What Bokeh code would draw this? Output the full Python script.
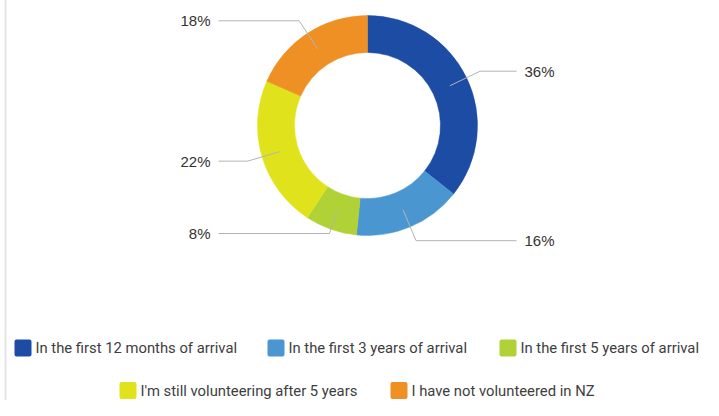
import math
from bokeh.plotting import figure
from bokeh.models import Range1d, ColumnDataSource
from bokeh.core.properties import value
from bokeh.embed import file_html
from bokeh.resources import INLINE

# ---- data ----
categories = [
    "In the first 12 months of arrival",
    "In the first 3 years of arrival",
    "In the first 5 years of arrival",
    "I'm still volunteering after 5 years",
    "I have not volunteered in NZ",
]
values = [35.7, 15.9, 7.6, 22.4, 18.4]
colors = ["#1c4ca4", "#4a96d1", "#b1d236", "#e0e31b", "#ef9025"]

# ---- layout constants (page pixels) ----
W, H = 719, 408
CX, CY = 375, 133           # donut centre on the page
R_IN, R_OUT = 73, 110
R_MID = (R_IN + R_OUT) / 2
R_ELBOW = 125
LINE_END = 149
LABEL_X = 157
legend_left = [22, 275, 507, 127, 398]
legend_row_y = [355.5, 355.5, 355.5, 398, 398]
SQ = 13

x0, x1 = -CX, W - CX
y0, y1 = CY - H, CY
p = figure(width=W, height=H, x_range=Range1d(x0, x1), y_range=Range1d(y0, y1),
           output_backend="svg", toolbar_location=None,
           min_border=0, min_border_left=0, min_border_right=0,
           min_border_top=0, min_border_bottom=0)
p.axis.visible = False
p.grid.visible = False
p.outline_line_color = None
p.background_fill_color = "white"
p.styles = {"margin-left": "-8px", "margin-top": "-8px"}

# frame lines
p.segment(x0=[x0, 13 - CX], y0=[CY - 4, CY - 4], x1=[x1, 13 - CX], y1=[CY - 4, y0],
          line_color="#e4e4e4", line_width=2)

total = sum(values)
cum = [0.0]
for v in values:
    cum.append(cum[-1] + v / total)
starts = [math.pi / 2 - 2 * math.pi * c for c in cum[:-1]]
ends = [math.pi / 2 - 2 * math.pi * c for c in cum[1:]]

src = ColumnDataSource(dict(start=starts, end=ends, color=colors))
p.annular_wedge(x=0, y=0, inner_radius=R_IN, outer_radius=R_OUT, start_angle="start",
                end_angle="end", direction="clock", fill_color="color", line_color="color",
                line_width=0.5, source=src)

# leader lines and labels
xs, ys, lx, ly, lt, la = [], [], [], [], [], []
for i, v in enumerate(values):
    th = 2 * math.pi * (cum[i] + cum[i + 1]) / 2
    ux, uy = math.sin(th), math.cos(th)
    sx, sy = R_MID * ux, R_MID * uy
    ex, ey = R_ELBOW * ux, R_ELBOW * uy
    if ux < 0 and abs(ey) > R_OUT - 2:
        r = (R_OUT - 2) / abs(uy)
        ex, ey = r * ux, math.copysign(R_OUT - 2, uy)
    side = 1 if ux >= 0 else -1
    xs.append([sx, ex, side * LINE_END])
    ys.append([sy, ey, ey])
    lx.append(side * LABEL_X)
    ly.append(ey)
    lt.append(f"{round(v / total * 100)}%")
    la.append("left" if side > 0 else "right")

p.multi_line(xs=xs, ys=ys, line_color="#b4b4b4", line_width=1)
p.text(x=lx, y=ly, text=lt, text_align=la, text_baseline="middle",
       text_font=value("Liberation Sans"), text_font_size="15px", text_color="#333333")

# legend
qx = [l + SQ / 2 + 2 - CX for l in legend_left]
qy = [CY - y for y in legend_row_y]
p.rect(x=qx, y=qy, width=SQ, height=SQ, fill_color=colors, line_color=colors,
       line_width=4, line_join="round")
p.text(x=[l + 21 - CX for l in legend_left], y=qy, text=categories, text_align="left",
       text_baseline="middle", text_font=value("Roboto"), text_font_size="14.8px",
       text_color="#3e3e3e")

open("out.html", "w").write(file_html(p, INLINE))
